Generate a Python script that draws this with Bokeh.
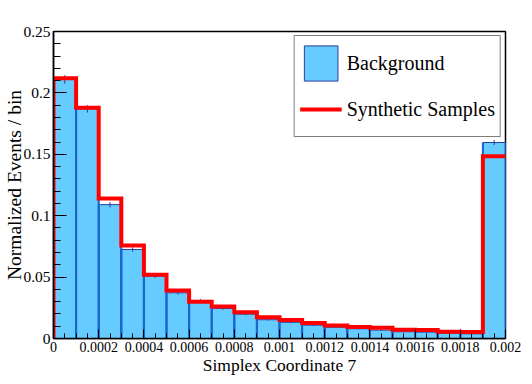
import numpy as np
from bokeh.plotting import figure
from bokeh.models import FixedTicker, Legend, LegendItem, Range1d
from bokeh.embed import file_html
from bokeh.resources import INLINE

# ---- data ----
bin_edges = np.linspace(0.0, 0.002, 21)
background = [0.211, 0.187, 0.109, 0.0725, 0.0508, 0.0372, 0.031, 0.0245, 0.0198, 0.0153,
              0.0132, 0.0109, 0.0092, 0.0080, 0.0068, 0.0055, 0.0052, 0.0043, 0.0038, 0.1596]
background_err = [0.0035, 0.003, 0.0022, 0.0018, 0.0015, 0.0013, 0.0012, 0.001, 0.0009, 0.0008,
                  0.0008, 0.0007, 0.0006, 0.0006, 0.0006, 0.0005, 0.0005, 0.0005, 0.0004, 0.002]
synthetic = [0.212, 0.188, 0.114, 0.0757, 0.052, 0.039, 0.030, 0.026, 0.0213, 0.0174,
             0.015, 0.0127, 0.0105, 0.0094, 0.0088, 0.0072, 0.0070, 0.0054, 0.0052, 0.1485]

x_ticks = [0, 0.0002, 0.0004, 0.0006, 0.0008, 0.001, 0.0012, 0.0014, 0.0016, 0.0018, 0.002]
x_tick_labels = ["0", "0.0002", "0.0004", "0.0006", "0.0008", "0.001", "0.0012", "0.0014",
                 "0.0016", "0.0018", "0.002"]
y_ticks = [0, 0.05, 0.1, 0.15, 0.2, 0.25]
y_tick_labels = ["0", "0.05", "0.1", "0.15", "0.2", "0.25"]

x_title = "Simplex Coordinate 7"
y_title = "Normalized Events / bin"
legend_labels = ["Background", "Synthetic Samples"]

FONT = "Liberation Serif"

p = figure(width=530, height=382, x_range=Range1d(0, 0.002), y_range=Range1d(0, 0.25),
           output_backend="svg", toolbar_location=None,
           min_border_left=53, min_border_right=25, min_border_top=31, min_border_bottom=44)
p.grid.visible = False
p.background_fill_color = "white"
p.border_fill_color = "white"
p.outline_line_color = "black"
p.outline_line_width = 1.5

lefts = bin_edges[:-1]
rights = bin_edges[1:]
centers = 0.5 * (lefts + rights)
bg = np.array(background)
err = np.array(background_err)

bars = p.quad(left=lefts, right=rights, bottom=0, top=bg, fill_color="#66ccff",
              line_color="#2b3d9c", line_width=1)
# darker bar edges
p.segment(x0=lefts, y0=np.zeros_like(bg), x1=lefts, y1=bg, line_color="#1a66cc", line_width=2)
p.segment(x0=rights, y0=np.zeros_like(bg), x1=rights, y1=bg, line_color="#1a66cc", line_width=2)
# error bars
p.segment(x0=centers, y0=bg - err, x1=centers, y1=bg + err, line_color="#2b3d9c", line_width=1)

x_step = np.concatenate([[bin_edges[0]], np.repeat(bin_edges, 2)[1:-1]])
y_step = np.concatenate([[0.0], np.repeat(np.array(synthetic), 2)])
red = p.line(x_step, y_step, line_color="#ff0000", line_width=4, line_join="miter")

# axes
p.xaxis.ticker = FixedTicker(ticks=x_ticks, minor_ticks=list(np.arange(0, 41) * 0.00005))
p.yaxis.ticker = FixedTicker(ticks=y_ticks, minor_ticks=list(np.arange(0, 26) * 0.01))
p.xaxis.major_label_overrides = {t: l for t, l in zip(x_ticks, x_tick_labels)}
p.yaxis.major_label_overrides = {t: l for t, l in zip(y_ticks, y_tick_labels)}

for ax in (p.xaxis[0], p.yaxis[0]):
    ax.axis_line_color = "black"
    ax.axis_line_width = 1.5
    ax.major_tick_line_color = "black"
    ax.minor_tick_line_color = "black"
    ax.major_tick_out = 0
    ax.minor_tick_out = 0
    ax.major_label_text_font = FONT
    ax.major_label_text_color = "black"
    ax.axis_label_text_font = FONT
    ax.axis_label_text_font_style = "normal"
    ax.axis_label_text_color = "black"

p.xaxis.major_label_text_font_size = "14px"
p.yaxis.major_label_text_font_size = "15.5px"
p.xaxis.major_tick_in = 9
p.xaxis.minor_tick_in = 5
p.yaxis.major_tick_in = 13
p.yaxis.minor_tick_in = 7
p.xaxis.major_label_standoff = 3
p.yaxis.major_label_standoff = 3
p.xaxis.axis_label = x_title
p.yaxis.axis_label = y_title
p.xaxis.axis_label_text_font_size = "17.5px"
p.yaxis.axis_label_text_font_size = "19.5px"
p.xaxis.axis_label_standoff = 0
p.yaxis.axis_label_standoff = -5

legend = Legend(items=[LegendItem(label=legend_labels[0], renderers=[bars]),
                       LegendItem(label=legend_labels[1], renderers=[red])],
                location="top_right")
legend.label_text_font = FONT
legend.label_text_font_size = "20px"
legend.label_text_color = "black"
legend.glyph_width = 42
legend.glyph_height = 44
legend.label_height = 44
legend.label_standoff = 5
legend.spacing = 2
legend.padding = 5
legend.margin = 4
legend.border_line_color = "black"
legend.border_line_width = 1.5
legend.background_fill_color = "white"
legend.background_fill_alpha = 1.0
p.add_layout(legend)

open("out.html", "w").write(file_html(p, INLINE))
